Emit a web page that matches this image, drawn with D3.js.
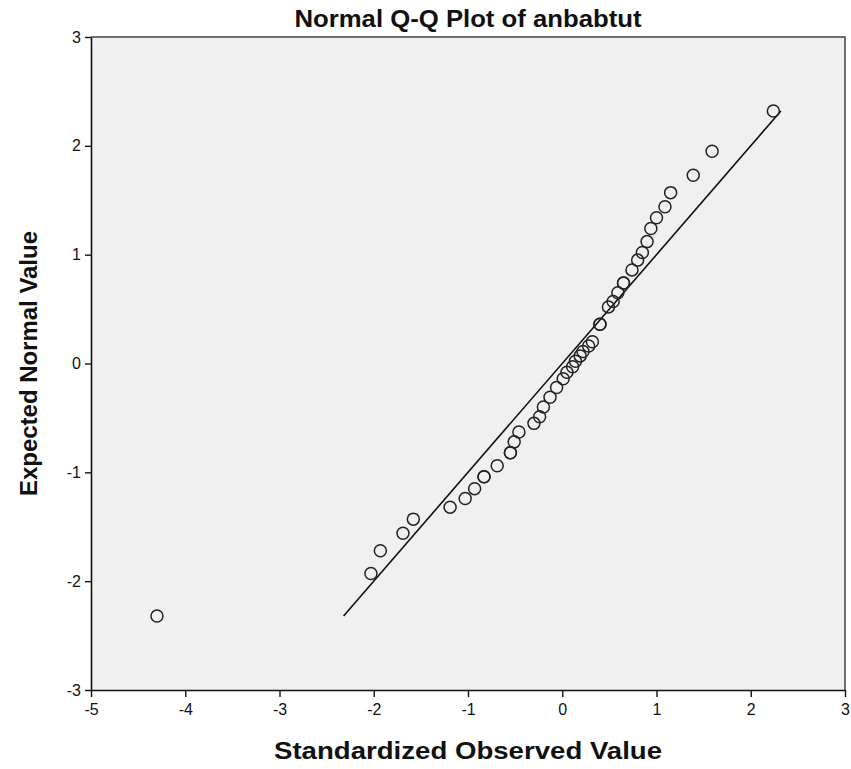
<!DOCTYPE html>
<html><head><meta charset="utf-8">
<script src="https://cdn.jsdelivr.net/npm/d3@7"></script>
<style>body{margin:0;background:#fff}svg{display:block}text{font-family:"Liberation Sans",Arial,sans-serif}</style>
</head><body>
<script>
const observed = [-4.30,-2.03,-1.93,-1.69,-1.58,-1.19,-1.03,-0.93,-0.83,-0.83,-0.69,-0.55,-0.55,-0.51,-0.46,-0.30,-0.24,-0.20,-0.13,-0.06,0.01,0.05,0.11,0.14,0.19,0.22,0.28,0.32,0.40,0.40,0.49,0.54,0.59,0.65,0.65,0.74,0.80,0.85,0.90,0.94,1.00,1.09,1.15,1.39,1.59,2.24];
const expected = [-2.32,-1.93,-1.72,-1.56,-1.43,-1.32,-1.24,-1.15,-1.04,-1.04,-0.94,-0.82,-0.82,-0.72,-0.63,-0.55,-0.49,-0.40,-0.31,-0.22,-0.14,-0.08,-0.03,0.02,0.07,0.11,0.16,0.20,0.36,0.36,0.52,0.57,0.65,0.74,0.74,0.86,0.95,1.02,1.12,1.24,1.34,1.44,1.57,1.73,1.95,2.32];
const refLine = [-2.32, 2.32];
const xTicks = [-5,-4,-3,-2,-1,0,1,2,3];
const yTicks = [-3,-2,-1,0,1,2,3];
const title = "Normal Q-Q Plot of anbabtut";
const xLabel = "Standardized Observed Value";
const yLabel = "Expected Normal Value";

const W = 851, H = 769;
const L = 91, R = 845, T = 37, B = 690;
const svg = d3.select("body").append("svg").attr("width", W).attr("height", H);
const x = d3.scaleLinear().domain([-5, 3]).range([L, R]);
const y = d3.scaleLinear().domain([-3, 3]).range([B, T]);

svg.append("rect").attr("x", L).attr("y", T).attr("width", R - L).attr("height", B - T).attr("fill", "#f0f0f0");
svg.append("path").attr("d", `M${L},${T}H${R}V${B}`).attr("fill", "none").attr("stroke", "#444").attr("stroke-width", 1.5);

const fmt = d => String(d);
const xAxis = svg.append("g").attr("transform", `translate(0,${B})`)
  .call(d3.axisBottom(x).tickValues(xTicks).tickSize(7).tickSizeOuter(0).tickPadding(4).tickFormat(fmt));
const yAxis = svg.append("g").attr("transform", `translate(${L},0)`)
  .call(d3.axisLeft(y).tickValues(yTicks).tickSize(6).tickSizeOuter(0).tickPadding(4).tickFormat(fmt));
[xAxis, yAxis].forEach(g => {
  g.select(".domain").attr("stroke", "#111").attr("stroke-width", 1.6);
  g.selectAll(".tick line").attr("stroke", "#111").attr("stroke-width", 1.4);
  g.selectAll(".tick text").attr("font-size", 16).attr("fill", "#111")
   .attr("font-family", '"Liberation Sans",Arial,sans-serif');
});
xAxis.selectAll(".tick text").attr("dy", "0.85em");

svg.append("line")
  .attr("x1", x(refLine[0])).attr("y1", y(refLine[0]))
  .attr("x2", x(refLine[1])).attr("y2", y(refLine[1]))
  .attr("stroke", "#111").attr("stroke-width", 1.6);

svg.append("g").selectAll("circle").data(observed.map((d, i) => [d, expected[i]]))
  .join("circle")
  .attr("cx", d => x(d[0])).attr("cy", d => y(d[1])).attr("r", 6)
  .attr("fill", "none").attr("stroke", "#222").attr("stroke-width", 1.5);

svg.append("text").attr("x", (L + R) / 2).attr("y", 27).attr("text-anchor", "middle")
  .attr("font-size", 24).attr("font-weight", "bold").attr("fill", "#111")
  .attr("textLength", 347).attr("lengthAdjust", "spacingAndGlyphs").text(title);
svg.append("text").attr("x", (L + R) / 2).attr("y", 759).attr("text-anchor", "middle")
  .attr("font-size", 24).attr("font-weight", "bold").attr("fill", "#111")
  .attr("textLength", 388).attr("lengthAdjust", "spacingAndGlyphs").text(xLabel);
svg.append("text").attr("transform", `translate(37,${(T + B) / 2}) rotate(-90)`).attr("text-anchor", "middle")
  .attr("font-size", 23).attr("font-weight", "bold").attr("fill", "#111")
  .attr("textLength", 265).attr("lengthAdjust", "spacingAndGlyphs").text(yLabel);
</script>
</body></html>
